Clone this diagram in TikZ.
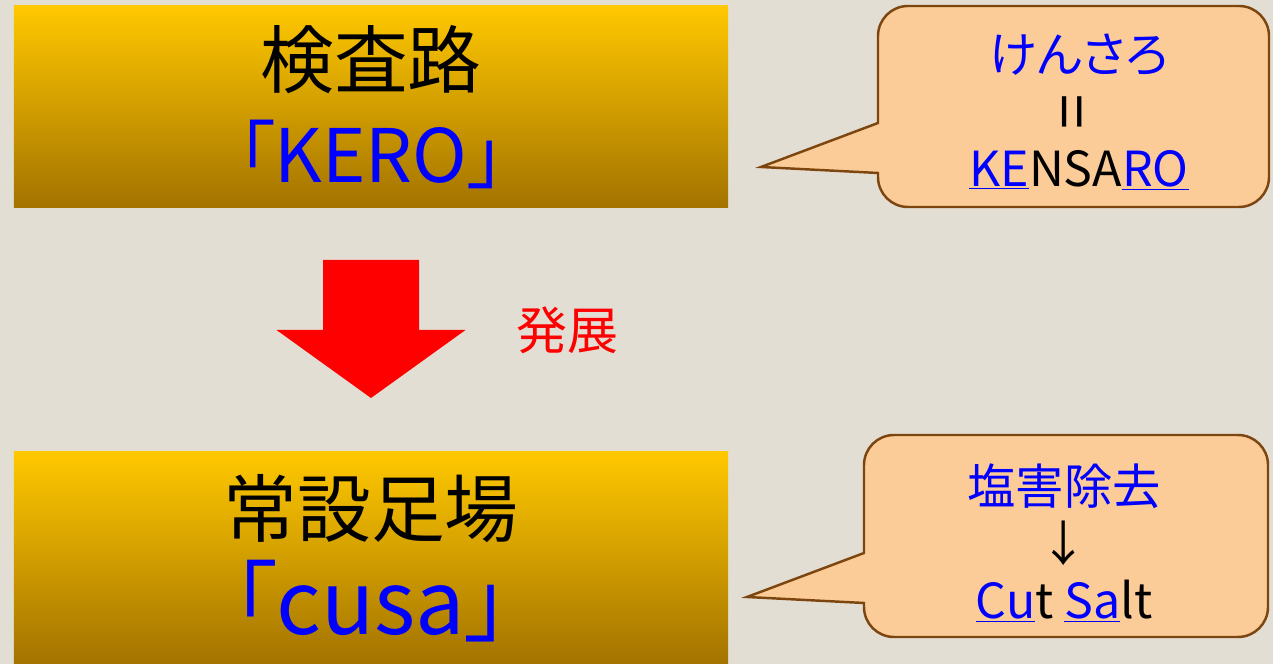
\documentclass[tikz,border=0pt]{standalone}
\usepackage{fontspec}
\usepackage{graphicx}
\setmainfont{Noto Sans CJK JP}
\newfontfamily\jpprop[RawFeature=+palt]{Noto Sans CJK JP}
\definecolor{bg}{RGB}{227,222,212}
\definecolor{goldtop}{RGB}{255,200,0}
\definecolor{goldbot}{RGB}{163,115,0}
\definecolor{peach}{RGB}{251,203,152}
\definecolor{rim}{RGB}{125,70,15}

\begin{document}
\begin{tikzpicture}[
	box/.style={rectangle, minimum width=14.28cm, inner sep=0pt, top color=goldtop, bottom color=goldbot, align=center},
	bubble/.style={fill=peach, draw=rim, line width=1.4pt},
	btext/.style={align=center, font=\fontsize{27.5}{32.5}\selectfont}]
%	\draw[help lines] (0,0) grid (25,13);
	\fill[bg] (0,0) rectangle (25.46,13.28);
	\node[box, minimum height=4.04cm, font=\fontsize{42}{54}\selectfont] (kero) at (7.42,11.14) {検査路\\{\jpprop\color{blue}「KERO」}};
	\node[box, minimum height=4.24cm, font=\fontsize{42}{56}\selectfont] (cusa) at (7.42,2.12) {常設足場\\{\jpprop\fontsize{50}{56}\selectfont\color{blue}「cusa」}};
	\fill[red] (6.46,8.08) -- (8.38,8.08) -- (8.38,6.68) -- (9.31,6.68) -- (7.42,5.32) -- (5.53,6.68) -- (6.46,6.68) -- cycle;
	\node[text=red, font=\fontsize{29}{29}\selectfont] (dev) at (11.34,6.68) {発展};
	\coordinate (kenTip) at (15.22,9.94);
	\coordinate (cutTip) at (14.94,1.34);
	\draw[bubble] (kenTip) -- (17.56,10.82) [rounded corners=0.6cm] -- (17.56,13.16) -- (25.38,13.16) -- (25.38,9.14) -- (17.56,9.14) [sharp corners] -- (17.56,9.82) -- cycle;
	\draw[bubble] (cutTip) -- (17.28,2.22) [rounded corners=0.6cm] -- (17.28,4.58) -- (25.36,4.58) -- (25.36,0.54) -- (17.28,0.54) [sharp corners] -- (17.28,1.22) -- cycle;
	\node[btext] (ken) at (21.58,11.04) {{\jpprop\color{blue}けんさろ}\\\rotatebox{90}{\fontsize{36}{36}\selectfont=}\\\textcolor{blue}{\underline{KE}}NSA\textcolor{blue}{\underline{RO}}};
	\node[btext] (cut) at (21.28,2.42) {\textcolor{blue}{塩害除去}\\↓\\\textcolor{blue}{\underline{Cu}}t \textcolor{blue}{\underline{Sa}}lt};
\end{tikzpicture}
\end{document}
